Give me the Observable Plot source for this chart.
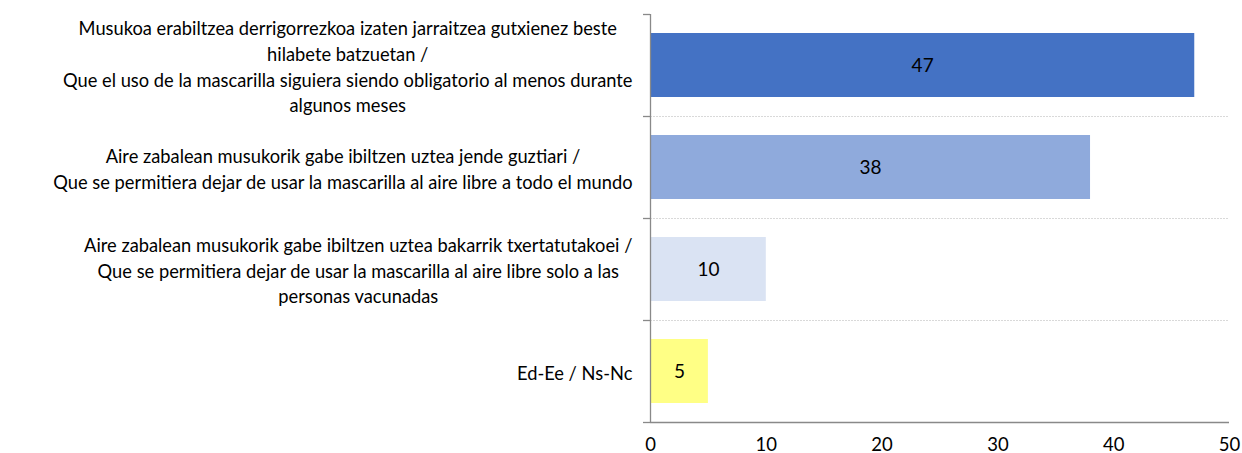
<!DOCTYPE html>
<html><head><meta charset="utf-8">
<script src="https://cdn.jsdelivr.net/npm/d3@7"></script>
<script src="https://cdn.jsdelivr.net/npm/@observablehq/plot@0.6"></script>
<style>body{margin:0;background:#fff;} #chart svg{display:block;}</style>
</head><body><div id="chart"></div>
<script>
const categories = [
  "Musukoa erabiltzea derrigorrezkoa izaten jarraitzea gutxienez beste\nhilabete batzuetan /\nQue el uso de la mascarilla siguiera siendo obligatorio al menos durante\nalgunos meses",
  "Aire zabalean musukorik gabe ibiltzen uztea jende guztiari /\nQue se permitiera dejar de usar la mascarilla al aire libre a todo el mundo",
  "Aire zabalean musukorik gabe ibiltzen uztea bakarrik txertatutakoei /\nQue se permitiera dejar de usar la mascarilla al aire libre solo a las\npersonas vacunadas",
  "Ed-Ee / Ns-Nc"
];
const values = [47, 38, 10, 5];
const colors = ["#4472C4", "#8FAADC", "#DAE3F3", "#FFFF85"];
const xTicks = [0, 10, 20, 30, 40, 50];

const data = categories.map((c, i) => ({category: c, value: values[i], color: colors[i]}));

const W = 1242, H = 453, mt = 14, mb = 31, ml = 650, mr = 13;
const step = (H - mt - mb) / categories.length;
const font = "Lato, 'Open Sans', sans-serif";
const axisColor = "#898989";
const last = categories[categories.length - 1];

const plot = Plot.plot({
  width: W, height: H,
  marginTop: mt, marginBottom: mb, marginLeft: ml, marginRight: mr,
  style: {fontFamily: font, fontSize: "18px", color: "#000", background: "#fff"},
  x: {domain: [0, 50], axis: null},
  y: {domain: categories, paddingInner: 0.37, paddingOuter: 0.185, axis: null},
  color: {type: "identity"},
  marks: [
    Plot.ruleY(categories.slice(1), {y: d => d, dy: -step / 2, x1: 0, x2: 50, stroke: "#D9D9D9", strokeDasharray: "2,1"}),
    Plot.barX(data, {y: "category", x: "value", fill: d => d.color}),
    Plot.text(data, {y: "category", x: d => d.value / 2, text: d => String(d.value), fontSize: 19, fill: "#000"}),
    Plot.ruleX([0], {stroke: axisColor, strokeWidth: 1.3}),
    Plot.ruleY([last], {y: d => d, dy: step / 2, x1: 0, x2: 50, stroke: axisColor, strokeWidth: 1.3}),
    Plot.ruleY(categories, {y: d => d, dy: -step / 2, x1: 0, x2: 0, insetLeft: -7, stroke: axisColor, strokeWidth: 1.3}),
    Plot.ruleY([last], {y: d => d, dy: step / 2, x1: 0, x2: 0, insetLeft: -7, stroke: axisColor, strokeWidth: 1.3}),
    Plot.ruleX(xTicks, {x: d => d, y1: last, y2: last, dy: step / 2, insetBottom: -6, stroke: axisColor, strokeWidth: 1.3}),
    Plot.text(xTicks, {x: d => d, frameAnchor: "bottom", dy: 28, text: d => String(d), fontSize: 18.5, fill: "#000"}),
    Plot.text(data, {y: "category", x: 0, text: "category", textAnchor: "end", dx: -18, lineHeight: 1.4, fontSize: 18.3, fill: "#000"})
  ]
});
document.getElementById("chart").appendChild(plot);

// centre each wrapped label's lines within its own block (block right-aligned to the axis)
const groups = plot.querySelectorAll(":scope > g");
const labelGroup = groups[groups.length - 1];
labelGroup.querySelectorAll("text").forEach(t => {
  const w = t.getBBox().width;
  t.setAttribute("text-anchor", "middle");
  t.setAttribute("transform", (t.getAttribute("transform") || "") + ` translate(${-w / 2},0)`);
});
</script>
</body></html>
